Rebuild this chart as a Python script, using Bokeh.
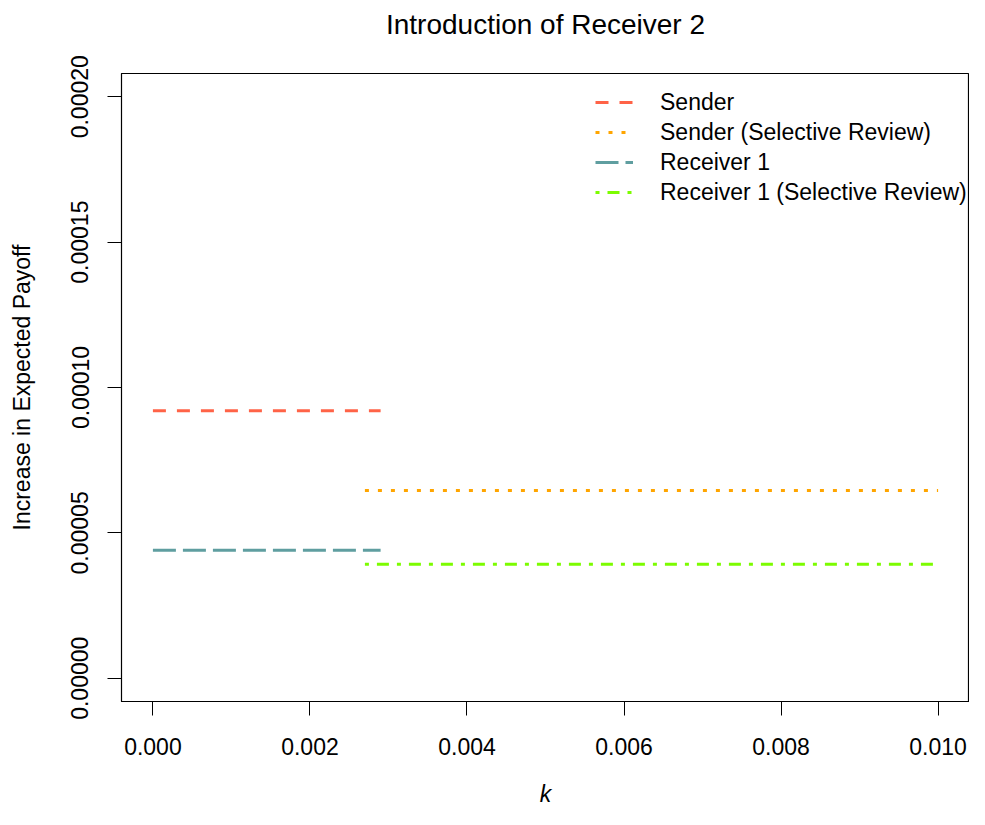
from bokeh.plotting import figure
from bokeh.models import Legend, LegendItem, FixedTicker, PrintfTickFormatter, Range1d
from bokeh.embed import file_html
from bokeh.resources import INLINE

# ---- data ----
series_names = ["Sender", "Sender (Selective Review)", "Receiver 1", "Receiver 1 (Selective Review)"]
k_start = [0.0, 0.0027, 0.0, 0.0027]
k_end = [0.0029, 0.010, 0.0029, 0.010]
payoff = [0.0000920, 0.0000646, 0.0000440, 0.0000392]
x_ticks = [0.0, 0.002, 0.004, 0.006, 0.008, 0.010]
y_ticks = [0.0, 0.00005, 0.00010, 0.00015, 0.00020]
title_text = "Introduction of Receiver 2"

colors = ["#FF6347", "#FFA500", "#5F9EA0", "#7CFC00"]
dashes = ["13 11", "4 9", "23 7", "4 8 12 8"]

FONT = "Liberation Sans"

p = figure(width=969, height=809, output_backend="svg", toolbar_location=None,
           x_range=Range1d(-0.0004, 0.0104), y_range=Range1d(-0.000008, 0.000208),
           min_border_left=121, min_border_right=0, min_border_top=73, min_border_bottom=106,
           title=title_text + "\n ")

p.background_fill_color = "white"
p.border_fill_color = "white"
p.outline_line_color = "black"
p.outline_line_width = 1.2
p.xgrid.visible = False
p.ygrid.visible = False

p.title.text_font = FONT
p.title.text_font_size = "28px"
p.title.text_font_style = "normal"
p.title.align = "center"
p.title.vertical_align = "bottom"
p.title.text_color = "black"
p.title.standoff = 6

for ax in (p.xaxis[0], p.yaxis[0]):
    ax.axis_line_color = "black"
    ax.major_tick_line_color = "black"
    ax.major_tick_out = 14
    ax.major_tick_in = 0
    ax.minor_tick_line_color = None
    ax.major_label_text_font = FONT
    ax.major_label_text_font_size = "23px"
    ax.major_label_text_color = "black"
    ax.axis_label_text_font = FONT
    ax.axis_label_text_font_size = "23px"
    ax.axis_label_text_color = "black"

p.xaxis[0].ticker = FixedTicker(ticks=x_ticks)
p.xaxis[0].formatter = PrintfTickFormatter(format="%.3f")
p.xaxis[0].major_label_standoff = 22
p.xaxis[0].axis_label = "k"
p.xaxis[0].axis_label_text_font_style = "italic"
p.xaxis[0].axis_label_standoff = 23

p.yaxis[0].ticker = FixedTicker(ticks=y_ticks)
p.yaxis[0].formatter = PrintfTickFormatter(format="%.5f")
p.yaxis[0].major_label_orientation = "vertical"
p.yaxis[0].major_label_standoff = 19
p.yaxis[0].axis_label = "Increase in Expected Payoff"
p.yaxis[0].axis_label_text_font_style = "normal"
p.yaxis[0].axis_label_standoff = 34

items = []
for name, x0, x1, v, c, d in zip(series_names, k_start, k_end, payoff, colors, dashes):
    r = p.line(x=[x0, x1], y=[v, v], line_color=c, line_width=3, line_dash=d)
    items.append(LegendItem(label=name, renderers=[r]))

legend = Legend(items=items, location=(474, 494), padding=0, spacing=0, margin=0,
                label_height=30, glyph_height=30, glyph_width=38, label_standoff=27,
                label_text_font=FONT, label_text_font_size="23px", label_text_color="black",
                border_line_color=None, background_fill_alpha=0)
p.add_layout(legend, "center")

open("out.html", "w").write(file_html(p, INLINE))
